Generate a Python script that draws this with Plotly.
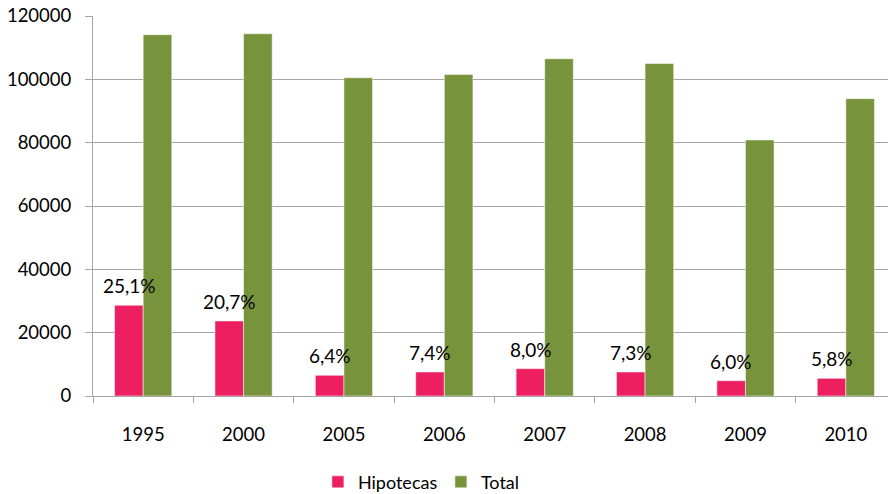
import plotly.graph_objects as go

years = ["1995", "2000", "2005", "2006", "2007", "2008", "2009", "2010"]
hipotecas = [28650, 23700, 6540, 7580, 8630, 7580, 4830, 5590]
total = [114100, 114400, 100500, 101500, 106500, 105000, 80850, 93900]
labels = ["25,1%", "20,7%", "6,4%", "7,4%", "8,0%", "7,3%", "6,0%", "5,8%"]

FONT = "Lato"
PINK = "#EE1F60"
GREEN = "#77933C"

fig = go.Figure()
fig.add_trace(go.Bar(
    x=years, y=hipotecas, name="Hipotecas", marker_color=PINK,
    marker_line=dict(color="white", width=0.5),
))
fig.add_trace(go.Bar(
    x=years, y=total, name="Total", marker_color=GREEN,
    marker_line=dict(color="white", width=0.5),
))

for i, (v, t) in enumerate(zip(hipotecas, labels)):
    fig.add_annotation(
        x=i, y=v, text=t, showarrow=False,
        xanchor="center", yanchor="bottom", xshift=-14, yshift=6,
        font=dict(family=FONT, size=19, color="black"),
    )

fig.update_layout(
    width=888, height=494,
    margin=dict(l=93, r=0, t=16, b=98),
    paper_bgcolor="white", plot_bgcolor="white",
    barmode="group", bargap=0.43, bargroupgap=0,
    font=dict(family=FONT, size=18, color="black"),
    showlegend=True,
    legend=dict(
        orientation="h", xref="container", yref="container",
        x=0.358, y=0.024, xanchor="left", yanchor="middle",
        font=dict(family=FONT, size=18, color="black"),
        itemwidth=30, tracegroupgap=0,
        entrywidth=78, entrywidthmode="pixels",
    ),
    xaxis=dict(
        type="category", range=[-0.5, 7.42],
        showgrid=False, showline=True, linecolor="#A6A6A6", linewidth=1,
        ticks="outside", tickson="boundaries", ticklen=6, tickcolor="#A6A6A6",
        ticklabelstandoff=22,
        tickfont=dict(family=FONT, size=18.5, color="black"),
    ),
    yaxis=dict(
        range=[0, 120000], dtick=20000, tickformat="d",
        showgrid=True, gridcolor="#A6A6A6", gridwidth=1,
        showline=True, linecolor="#A6A6A6", linewidth=1,
        ticks="outside", ticklen=7, tickcolor="#A6A6A6",
        ticklabelstandoff=10,
        zeroline=False,
        tickfont=dict(family=FONT, size=18.5, color="black"),
    ),
)

fig.write_html("out.html")
